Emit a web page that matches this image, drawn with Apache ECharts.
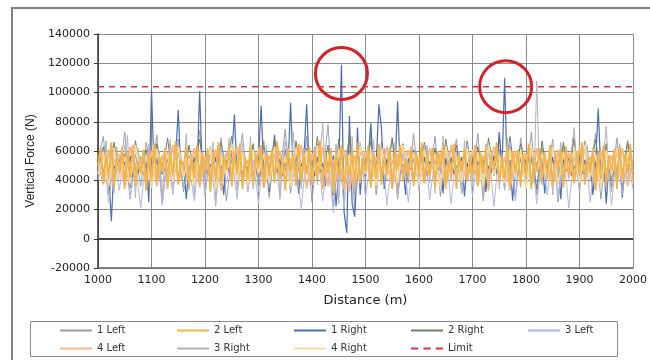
<!DOCTYPE html>
<html>
<head>
<meta charset="utf-8">
<script src="https://cdn.jsdelivr.net/npm/echarts@6/dist/echarts.min.js"></script>
<style>
  html, body { margin: 0; padding: 0; background: #fff; }
  #main { width: 650px; height: 360px; }
</style>
</head>
<body>
<div id="main"></div>
<script>
// distance grids (m)
const dist5 = []
for (let d = 1000; d <= 2000; d += 5) dist5.push(d)
const dist10 = []
for (let d = 1000; d <= 2000; d += 10) dist10.push(d)

// vertical force (N)
const right1 = [
  48000, 55000, 44000, 57000, 45000, 12000, 50000, 46000, 56000, 44000, 53000, 46000, 57000, 42000, 49000, 45000, 56000, 44000, 54000, 25000,
  102000, 45000, 55000, 43000, 52000, 46000, 56000, 44000, 48000, 55000, 88000, 44000, 53000, 27000, 50000, 46000, 56000, 44000, 101000, 45000,
  54000, 43000, 51000, 46000, 56000, 44000, 50000, 30000, 54000, 45000, 56000, 85000, 44000, 52000, 43000, 55000, 46000, 56000, 44000, 49000,
  55000, 91000, 44000, 53000, 32000, 51000, 71000, 45000, 55000, 43000, 52000, 47000, 93000, 44000, 55000, 31000, 50000, 56000, 92000, 45000,
  54000, 43000, 56000, 45000, 52000, 36000, 55000, 44000, 57000, 22000, 47000, 119000, 18000, 4000, 84000, 24000, 15000, 76000, 30000, 53000,
  43000, 55000, 79000, 44000, 52000, 92000, 75000, 34000, 55000, 45000, 56000, 44000, 94000, 45000, 51000, 30000, 55000, 47000, 56000, 43000,
  50000, 45000, 56000, 43000, 53000, 48000, 56000, 44000, 52000, 31000, 55000, 46000, 56000, 44000, 50000, 45000, 56000, 29000, 52000, 45000,
  55000, 44000, 53000, 47000, 56000, 32000, 50000, 45000, 57000, 44000, 73000, 45000, 110000, 43000, 54000, 26000, 51000, 45000, 56000, 44000,
  55000, 45000, 56000, 43000, 52000, 47000, 56000, 31000, 51000, 45000, 56000, 44000, 53000, 27000, 55000, 46000, 57000, 43000, 50000, 45000,
  56000, 44000, 54000, 47000, 56000, 30000, 51000, 89000, 45000, 55000, 24000, 53000, 46000, 56000, 44000, 55000, 28000, 50000, 45000, 56000, 44000
]
const left2 = [
  50000, 62000, 38000, 57000, 44000, 66000, 35000, 55000, 47000, 63000, 37000, 59000, 42000, 64000, 36000, 53000, 45000, 61000, 33000, 58000,
  40000, 65000, 39000, 56000, 46000, 62000, 34000, 60000, 43000, 67000, 37000, 54000, 48000, 63000, 35000, 57000, 41000, 64000, 38000, 59000,
  45000, 61000, 32000, 58000, 42000, 66000, 39000, 55000, 47000, 62000, 36000, 60000, 44000, 65000, 34000, 56000, 40000, 63000, 37000, 57000,
  48000, 64000, 35000, 59000, 43000, 61000, 38000, 66000, 41000, 55000, 33000, 62000, 46000, 58000, 36000, 65000, 39000, 57000, 44000, 63000,
  37000, 60000, 42000, 67000, 34000, 56000, 45000, 62000, 31000, 59000, 40000, 64000, 33000, 57000, 43000, 61000, 36000, 66000, 38000, 55000,
  46000, 63000, 35000, 58000, 41000, 65000, 37000, 56000, 44000, 62000, 34000, 60000, 47000, 64000, 39000, 55000, 42000, 61000, 36000, 59000,
  45000, 66000, 38000, 57000, 43000, 62000, 35000, 60000, 48000, 63000, 37000, 54000, 41000, 65000, 34000, 58000, 46000, 61000, 39000, 56000,
  42000, 64000, 36000, 59000, 44000, 62000, 33000, 57000, 47000, 66000, 38000, 55000, 40000, 63000, 35000, 60000, 45000, 61000, 37000, 58000,
  43000, 65000, 34000, 56000, 46000, 62000, 39000, 59000, 41000, 64000, 36000, 57000, 48000, 61000, 35000, 63000, 42000, 58000, 38000, 60000,
  44000, 66000, 37000, 55000, 45000, 62000, 33000, 59000, 42000, 64000, 36000, 57000, 47000, 61000, 34000, 63000, 40000, 58000, 45000, 65000, 39000
]
const right3 = [
  46000, 60000, 38000, 67000, 42000, 55000, 31000, 63000, 44000, 59000, 40000, 71000, 36000, 57000, 28000, 62000, 45000, 58000, 37000, 65000,
  43000, 56000, 39000, 60000, 29000, 54000, 46000, 68000, 35000, 58000, 42000, 57000, 44000, 72000, 33000, 55000, 30000, 61000, 47000, 59000,
  38000, 62000, 41000, 66000, 26000, 57000, 43000, 58000, 45000, 69000, 36000, 60000, 33000, 63000, 40000, 56000, 41000, 70000, 34000, 59000,
  32000, 61000, 44000, 64000, 39000, 58000, 42000, 67000, 27000, 55000, 46000, 60000, 38000, 73000, 43000, 57000, 34000, 62000, 45000, 59000,
  42000, 63000, 37000, 58000, 79000, 44000, 36000, 61000, 40000, 65000, 24000, 57000, 39000, 61000, 35000, 70000, 30000, 56000, 41000, 60000,
  44000, 58000, 37000, 68000, 33000, 60000, 45000, 62000, 40000, 57000, 36000, 66000, 29000, 58000, 43000, 59000, 47000, 63000, 38000, 60000,
  35000, 57000, 42000, 64000, 38000, 61000, 31000, 59000, 44000, 70000, 36000, 58000, 40000, 63000, 45000, 60000, 37000, 67000, 42000, 58000,
  36000, 60000, 43000, 56000, 28000, 65000, 41000, 59000, 43000, 62000, 34000, 58000, 39000, 69000, 44000, 57000, 40000, 61000, 35000, 58000,
  58000, 45000, 60000, 38000, 108000, 44000, 37000, 58000, 41000, 63000, 30000, 59000, 44000, 66000, 38000, 57000, 41000, 61000, 76000, 45000,
  35000, 60000, 42000, 64000, 39000, 58000, 44000, 60000, 46000, 57000, 77000, 43000, 32000, 61000, 45000, 65000, 42000, 58000, 37000, 59000, 43000
]
const left1 = [
  55000, 70000, 30000, 62000, 41000, 73000, 27000, 58000, 36000, 66000,
  45000, 71000, 24000, 60000, 38000, 68000, 32000, 57000, 43000, 74000,
  29000, 63000, 40000, 69000, 26000, 56000, 47000, 72000, 33000, 61000,
  39000, 67000, 28000, 64000, 44000, 75000, 31000, 58000, 37000, 70000,
  25000, 65000, 42000, 78000, 22000, 60000, 35000, 73000, 19000, 62000,
  40000, 71000, 30000, 66000, 45000, 69000, 27000, 59000, 38000, 72000,
  33000, 64000, 43000, 70000, 29000, 61000, 46000, 68000, 31000, 63000,
  41000, 72000, 26000, 60000, 44000, 71000, 34000, 66000, 28000, 69000,
  39000, 73000, 30000, 62000, 47000, 68000, 25000, 64000, 42000, 70000,
  32000, 67000, 45000, 72000, 27000, 61000, 40000, 69000, 35000, 65000, 48000
]
const right2 = [
  48000, 63000, 39000, 66000, 43000, 58000, 35000, 67000, 45000, 61000,
  37000, 65000, 44000, 69000, 40000, 60000, 34000, 64000, 47000, 68000,
  42000, 62000, 36000, 66000, 46000, 70000, 38000, 59000, 44000, 65000,
  35000, 63000, 48000, 68000, 41000, 61000, 33000, 67000, 45000, 62000,
  38000, 70000, 43000, 64000, 30000, 68000, 36000, 71000, 32000, 60000,
  45000, 67000, 38000, 63000, 42000, 69000, 35000, 65000, 47000, 61000,
  40000, 66000, 44000, 62000, 37000, 68000, 46000, 64000, 39000, 67000,
  43000, 63000, 36000, 69000, 45000, 61000, 38000, 70000, 41000, 65000,
  47000, 62000, 34000, 67000, 43000, 64000, 39000, 66000, 45000, 69000,
  37000, 63000, 46000, 68000, 40000, 65000, 35000, 62000, 44000, 67000, 42000
]
const left3 = [
  40000, 60000, 25000, 55000, 33000, 64000, 28000, 52000, 21000, 58000,
  36000, 62000, 23000, 57000, 30000, 66000, 34000, 50000, 26000, 61000,
  31000, 59000, 22000, 63000, 38000, 56000, 27000, 65000, 32000, 54000,
  24000, 61000, 35000, 58000, 29000, 67000, 33000, 53000, 20000, 60000,
  37000, 64000, 26000, 56000, 18000, 62000, 21000, 59000, 30000, 66000,
  28000, 55000, 36000, 63000, 23000, 58000, 32000, 61000, 25000, 57000,
  34000, 64000, 27000, 56000, 38000, 62000, 24000, 59000, 31000, 65000,
  29000, 57000, 35000, 63000, 22000, 60000, 33000, 66000, 26000, 58000,
  36000, 62000, 24000, 55000, 30000, 64000, 28000, 60000, 21000, 57000,
  33000, 65000, 25000, 59000, 37000, 61000, 23000, 63000, 30000, 56000, 34000
]
const left4 = [
  52000, 37000, 61000, 42000, 58000, 34000, 63000, 45000, 55000, 39000,
  60000, 36000, 57000, 44000, 64000, 38000, 53000, 41000, 62000, 35000,
  56000, 43000, 61000, 33000, 59000, 46000, 63000, 37000, 54000, 40000,
  62000, 35000, 57000, 45000, 60000, 38000, 55000, 42000, 64000, 34000,
  58000, 41000, 63000, 36000, 54000, 44000, 61000, 32000, 57000, 39000,
  60000, 37000, 56000, 43000, 63000, 35000, 58000, 46000, 61000, 40000,
  55000, 38000, 62000, 42000, 59000, 34000, 64000, 45000, 53000, 39000,
  61000, 36000, 57000, 44000, 63000, 41000, 56000, 33000, 60000, 43000,
  58000, 37000, 62000, 45000, 54000, 35000, 61000, 42000, 59000, 38000,
  63000, 40000, 56000, 34000, 60000, 46000, 57000, 39000, 62000, 36000, 55000
]
const right4 = [
  44000, 59000, 36000, 62000, 41000, 56000, 38000, 64000, 43000, 57000,
  35000, 61000, 46000, 58000, 39000, 63000, 42000, 55000, 37000, 60000,
  47000, 62000, 34000, 57000, 44000, 65000, 40000, 59000, 36000, 61000,
  45000, 58000, 38000, 63000, 42000, 56000, 35000, 62000, 46000, 60000,
  39000, 64000, 43000, 57000, 33000, 61000, 40000, 58000, 37000, 63000,
  44000, 60000, 36000, 62000, 41000, 57000, 38000, 64000, 45000, 59000,
  37000, 61000, 43000, 58000, 35000, 63000, 46000, 56000, 39000, 62000,
  42000, 59000, 36000, 64000, 44000, 57000, 38000, 61000, 41000, 60000,
  34000, 62000, 45000, 58000, 40000, 63000, 37000, 59000, 43000, 61000,
  38000, 64000, 42000, 57000, 36000, 60000, 44000, 62000, 39000, 58000, 46000
]
const limit = [[1000, 104000], [2000, 104000]]
const circled = [[1455, 113000], [1762, 104000]]
const legendNames = ['1 Left', '2 Left', '1 Right', '2 Right', '3 Left', '4 Left', '3 Right', '4 Right', 'Limit']

const pair = (xs, ys) => ys.map((v, i) => [xs[i], v])

// warm traces sit on top, like the orange band in the original
const series = [
  { name: '1 Left', color: '#9d9daa', data: pair(dist10, left1), z: 2, w: 1 },
  { name: '2 Left', color: '#f5b447', data: pair(dist5, left2), z: 4, w: 1.8 },
  { name: '1 Right', color: '#4a6db3', data: pair(dist5, right1), z: 2, w: 1.2 },
  { name: '2 Right', color: '#6f7f62', data: pair(dist10, right2), z: 2, w: 1 },
  { name: '3 Left', color: '#aeb6e6', data: pair(dist10, left3), z: 2, w: 1 },
  { name: '4 Left', color: '#f2b98c', data: pair(dist10, left4), z: 3, w: 1.8 },
  { name: '3 Right', color: '#b3b3b3', data: pair(dist5, right3), z: 2, w: 1 },
  { name: '4 Right', color: '#f7d99a', data: pair(dist10, right4), z: 3, w: 1.8 }
].map(s => ({
  name: s.name,
  type: 'line',
  data: s.data,
  symbol: 'none',
  z: s.z,
  color: s.color,
  lineStyle: { width: s.w, color: s.color }
}))

// zero line drawn like Excel's crossing axis
series[0].markLine = {
  silent: true,
  symbol: 'none',
  label: { show: false },
  lineStyle: { color: '#444', width: 2, type: 'solid' },
  data: [{ yAxis: 0 }]
}

series.push({
  name: 'Limit',
  type: 'line',
  data: limit,
  symbol: 'none',
  color: '#e0323c',
  lineStyle: { width: 1.5, color: '#e0323c', type: [6, 5] },
  z: 5,
  markPoint: {
    silent: true,
    symbol: 'circle',
    symbolSize: 52,
    label: { show: false },
    itemStyle: { color: 'rgba(0,0,0,0)', borderColor: '#d42027', borderWidth: 3 },
    data: circled.map(c => ({ coord: c }))
  }
})

const lineIcon = 'rect'
const dashIcon = 'path://M0 0h7v2H0z M12 0h7v2h-7z M24 0h7v2h-7z'

const myChart = echarts.init(document.getElementById('main'))
myChart.setOption({
  animation: false,
  textStyle: { fontFamily: 'DejaVu Sans, Liberation Sans, Arial, sans-serif' },
  grid: { left: 98, right: 11, top: 34, bottom: 92 },
  xAxis: {
    type: 'value',
    min: 1000,
    max: 2000,
    interval: 100,
    name: 'Distance (m)',
    nameLocation: 'middle',
    nameGap: 26,
    nameTextStyle: { fontSize: 13, color: '#222' },
    axisLine: { onZero: false, lineStyle: { color: '#666', width: 1.5 } },
    axisTick: { show: false },
    axisLabel: { fontSize: 11, color: '#222', margin: 7, formatter: v => String(v) },
    splitLine: { show: true, lineStyle: { color: '#8a8a8a', width: 1 } }
  },
  yAxis: {
    type: 'value',
    min: -20000,
    max: 140000,
    interval: 20000,
    name: 'Vertical Force (N)',
    nameLocation: 'middle',
    nameGap: 58,
    nameTextStyle: { fontSize: 12, color: '#222', fontFamily: 'Liberation Sans, Arial, sans-serif', padding: [0, 20, 0, 0] },
    axisLine: { show: true, lineStyle: { color: '#333', width: 1.5 } },
    axisTick: { show: true, length: 4, lineStyle: { color: '#333' } },
    axisLabel: { fontSize: 11, color: '#222', margin: 8, formatter: v => String(v) },
    splitLine: { show: true, lineStyle: { color: '#8a8a8a', width: 1 } }
  },
  legend: {
    left: 55,
    top: 319,
    width: 590,
    itemWidth: 32,
    itemHeight: 2,
    itemGap: 5,
    symbolKeepAspect: false,
    textStyle: { fontSize: 10, color: '#333', width: 75, lineHeight: 13 },
    data: legendNames.map(n => ({ name: n, icon: n === 'Limit' ? dashIcon : lineIcon }))
  },
  graphic: [
    { type: 'rect', z: -1, shape: { x: 12, y: 8, width: 700, height: 400 }, style: { fill: 'none', stroke: '#808080', lineWidth: 2 } },
    { type: 'rect', z: -1, shape: { x: 30.5, y: 321.5, width: 587, height: 35 }, style: { fill: 'none', stroke: '#8a8a8a', lineWidth: 1 } }
  ],
  series: series
})
</script>
</body>
</html>
